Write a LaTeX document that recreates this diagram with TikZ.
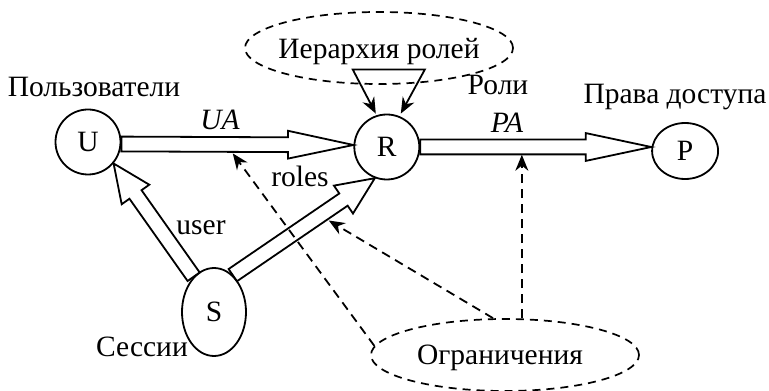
\documentclass[tikz,border=0pt]{standalone}
\usepackage{fontspec}
\setmainfont{Liberation Serif}
\usetikzlibrary{positioning,calc,shapes.geometric,shapes.arrows,arrows.meta}

\begin{document}
\begin{tikzpicture}[
    x=1pt, y=1pt,
    every node/.style={font=\fontsize{29.5}{34}\selectfont, text depth=0pt},
    state/.style={draw, circle, line width=1.8pt, minimum size=65pt, inner sep=0pt},
    oval/.style={draw, ellipse, line width=1.8pt, inner sep=0pt},
    cloud/.style={draw, ellipse, dashed, dash pattern=on 8pt off 6pt, line width=1.7pt, minimum width=268pt, minimum height=72pt, inner sep=0pt},
    lbl/.style={anchor=base, inner sep=0pt},
    fat/.style={single arrow, draw, line width=1.8pt, inner xsep=0pt, outer sep=0pt, single arrow head indent=0pt},
    longhead/.style={inner ysep=6.5pt, single arrow head extend=6.5pt, single arrow tip angle=24},
    shorthead/.style={inner ysep=6.5pt, single arrow head extend=9.5pt, single arrow tip angle=48},
    hollow/.style={to path={let \p1=($(\tikztotarget)-(\tikztostart)$), \n1={veclen(\x1,\y1)}, \n2={atan2(\y1,\x1)} in node[fat, #1, minimum height=\n1, rotate=\n2, anchor=tail] at (\tikztostart) {}}},
    arr/.style={->, >={Stealth[length=16pt, width=13pt]}, line width=1.8pt},
    dasharr/.style={arr, dashed, dash pattern=on 9pt off 6pt}
]
\useasboundingbox (0,0) rectangle (769,391);

% entities
\node[state] (u) at (88,249) {U};
\node[state, right=232pt of u, yshift=-5pt] (r) {R};
\node[oval, minimum width=66pt, minimum height=56pt, right=231pt of r, yshift=-4pt] (p) {P};
\node[oval, minimum width=64pt, minimum height=88pt] (s) at (214,79) {S};

% dashed ovals
\node[cloud, label={[name=hiername]center:Иерархия ролей}] (hier) at (379,343) {};
\node[cloud, label={[name=consname, xshift=-5pt]center:Ограничения}] (cons) at (505,36) {};

% names and relation labels
\node[lbl] (uname) at (94,294) {Пользователи};
\node[lbl] (ua) at (220,261) {\textit{UA}};
\node[lbl] (rolesl) at (300,204) {roles};
\node[lbl] (userl) at (201,156) {user};
\node[lbl] (sname) at (142,34) {Сессии};
\node[lbl] (rname) at (498,296) {Роли};
\node[lbl] (pa) at (507,258) {\textit{PA}};
\node[lbl] (pname) at (675,287) {Права доступа};

% hollow assignment arrows
\path ([yshift=-2pt]u.east) to[hollow=longhead] ([yshift=2pt]r.west);
\path (r.east) to[hollow=longhead] ([yshift=4pt]p.west);
\path (s.120) to[hollow=shorthead] (u.-40);
\path (s.63) to[hollow=shorthead] (r.-111);

% role hierarchy
\coordinate (hl) at ([xshift=-34pt, yshift=44pt]r.north);
\coordinate (hr) at ([xshift=38pt, yshift=44pt]r.north);
\draw[arr, <->] ([xshift=-11pt]r.north) -- (hl) -- (hr) -- ([xshift=14pt]r.north);

% constraints
\coordinate (uaq) at ([yshift=-9pt]$(u.east)!0.48!(r.west)$);
\coordinate (srm) at ($(s.63)!0.64!(r.-111)$);
\coordinate (srq) at ($(srm)!9pt!-90:(r.-111)$);
\coordinate (paq) at ([yshift=-6pt]$(r.east)!0.44!(p.west)$);
\draw[dasharr] (cons.176) -- (uaq);
\draw[dasharr] ([xshift=-12pt]cons.north) -- (srq);
\draw[dasharr] (cons.north -| paq) -- (paq);
\end{tikzpicture}
\end{document}
